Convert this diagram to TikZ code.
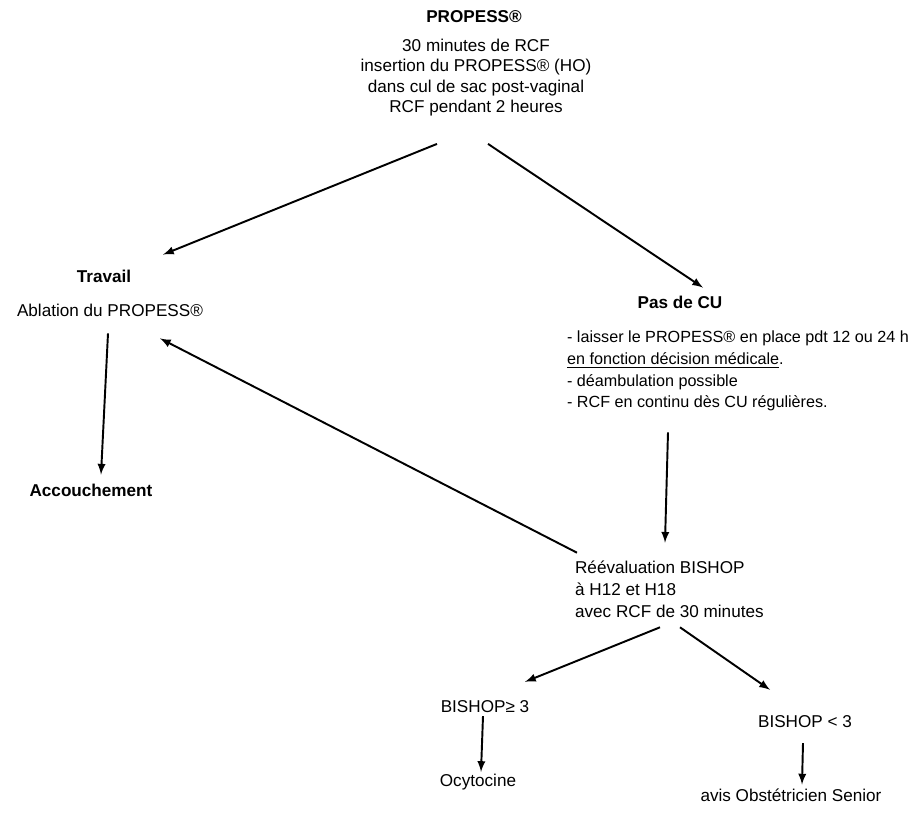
\documentclass[tikz,border=0pt]{standalone}
\usepackage{fontspec}
\setmainfont{Liberation Sans}
\usepackage{tikz}
\usetikzlibrary{
        arrows,
        shapes
    }

\begin{document}
\begin{tikzpicture}[
basetext/.style={inner sep=1pt, font=\fontsize{9.75}{11.5}\selectfont},
titre/.style={basetext, font=\fontsize{9.75}{11.5}\selectfont\bfseries},
bloc/.style={basetext, align=center},
liste/.style={basetext, align=left, anchor=west, font=\fontsize{9.75}{12.4}\selectfont},
arrow/.style={line width=1.1pt, -latex},
]
\useasboundingbox (0,0) rectangle (18.38,-16.28);

\node (step0) [titre] at (9.48,-0.34) {PROPESS®};
\node (step1) [bloc] at (9.52,-1.55) {30 minutes de RCF\\ insertion du PROPESS® (HO)\\ dans cul de sac post-vaginal\\ RCF pendant 2 heures};

\node (travail) [titre] at (2.08,-5.52) {Travail};
\node (ablation) [basetext] at (2.2,-6.2) {Ablation du PROPESS®};
\node (accouch) [titre] at (1.82,-9.8) {Accouchement};

\node (pascu) [titre] at (13.6,-6.04) {Pas de CU};
\node (consignes) [liste, font=\fontsize{9.2}{12.4}\selectfont] at (11.3,-7.42) {- laisser le PROPESS® en place pdt 12 ou 24 h\\ \underline{en fonction décision médicale}.\\ - déambulation possible\\ - RCF en continu dès CU régulières.};

\node (reeval) [liste] at (11.46,-11.78) {Réévaluation BISHOP\\ à H12 et H18\\ avec RCF de 30 minutes};

\node (bishopsup) [basetext] at (9.7,-14.14) {BISHOP≥ 3};
\node (ocyto) [basetext] at (9.56,-15.64) {Ocytocine};
\node (bishopinf) [basetext] at (16.1,-14.44) {BISHOP < 3};
\node (avis) [basetext] at (15.82,-15.9) {avis Obstétricien Senior};

\draw[arrow] ([xshift=-0.78cm,yshift=-0.52cm]step1.south) -- ([xshift=1.18cm,yshift=0.26cm]travail.north);
\draw[arrow] ([xshift=0.24cm,yshift=-0.52cm]step1.south) -- ([xshift=0.46cm,yshift=0.12cm]pascu.north);
\draw[arrow] ([xshift=-0.04cm,yshift=-0.3cm]ablation.south) -- ([xshift=0.2cm,yshift=0.14cm]accouch.north);
\draw[arrow] ([xshift=2.06cm,yshift=-0.38cm]consignes.south west) -- ([xshift=1.84cm,yshift=0.32cm]reeval.north west);
\draw[arrow] ([xshift=0.08cm,yshift=0.12cm]reeval.north west) -- ([xshift=1.0cm,yshift=-0.4cm]ablation.south);
\draw[arrow] ([xshift=1.74cm,yshift=-0.16cm]reeval.south west) -- ([xshift=0.8cm,yshift=0.34cm]bishopsup.north);
\draw[arrow] ([xshift=2.14cm,yshift=-0.16cm]reeval.south west) -- ([xshift=-0.7cm,yshift=0.48cm]bishopinf.north);
\draw[arrow] ([xshift=-0.04cm,yshift=-0.02cm]bishopsup.south) -- ([xshift=0.06cm,yshift=0cm]ocyto.north);
\draw[arrow] ([xshift=-0.04cm,yshift=-0.26cm]bishopinf.south) -- ([xshift=0.22cm,yshift=0.04cm]avis.north);

\end{tikzpicture}
\end{document}
